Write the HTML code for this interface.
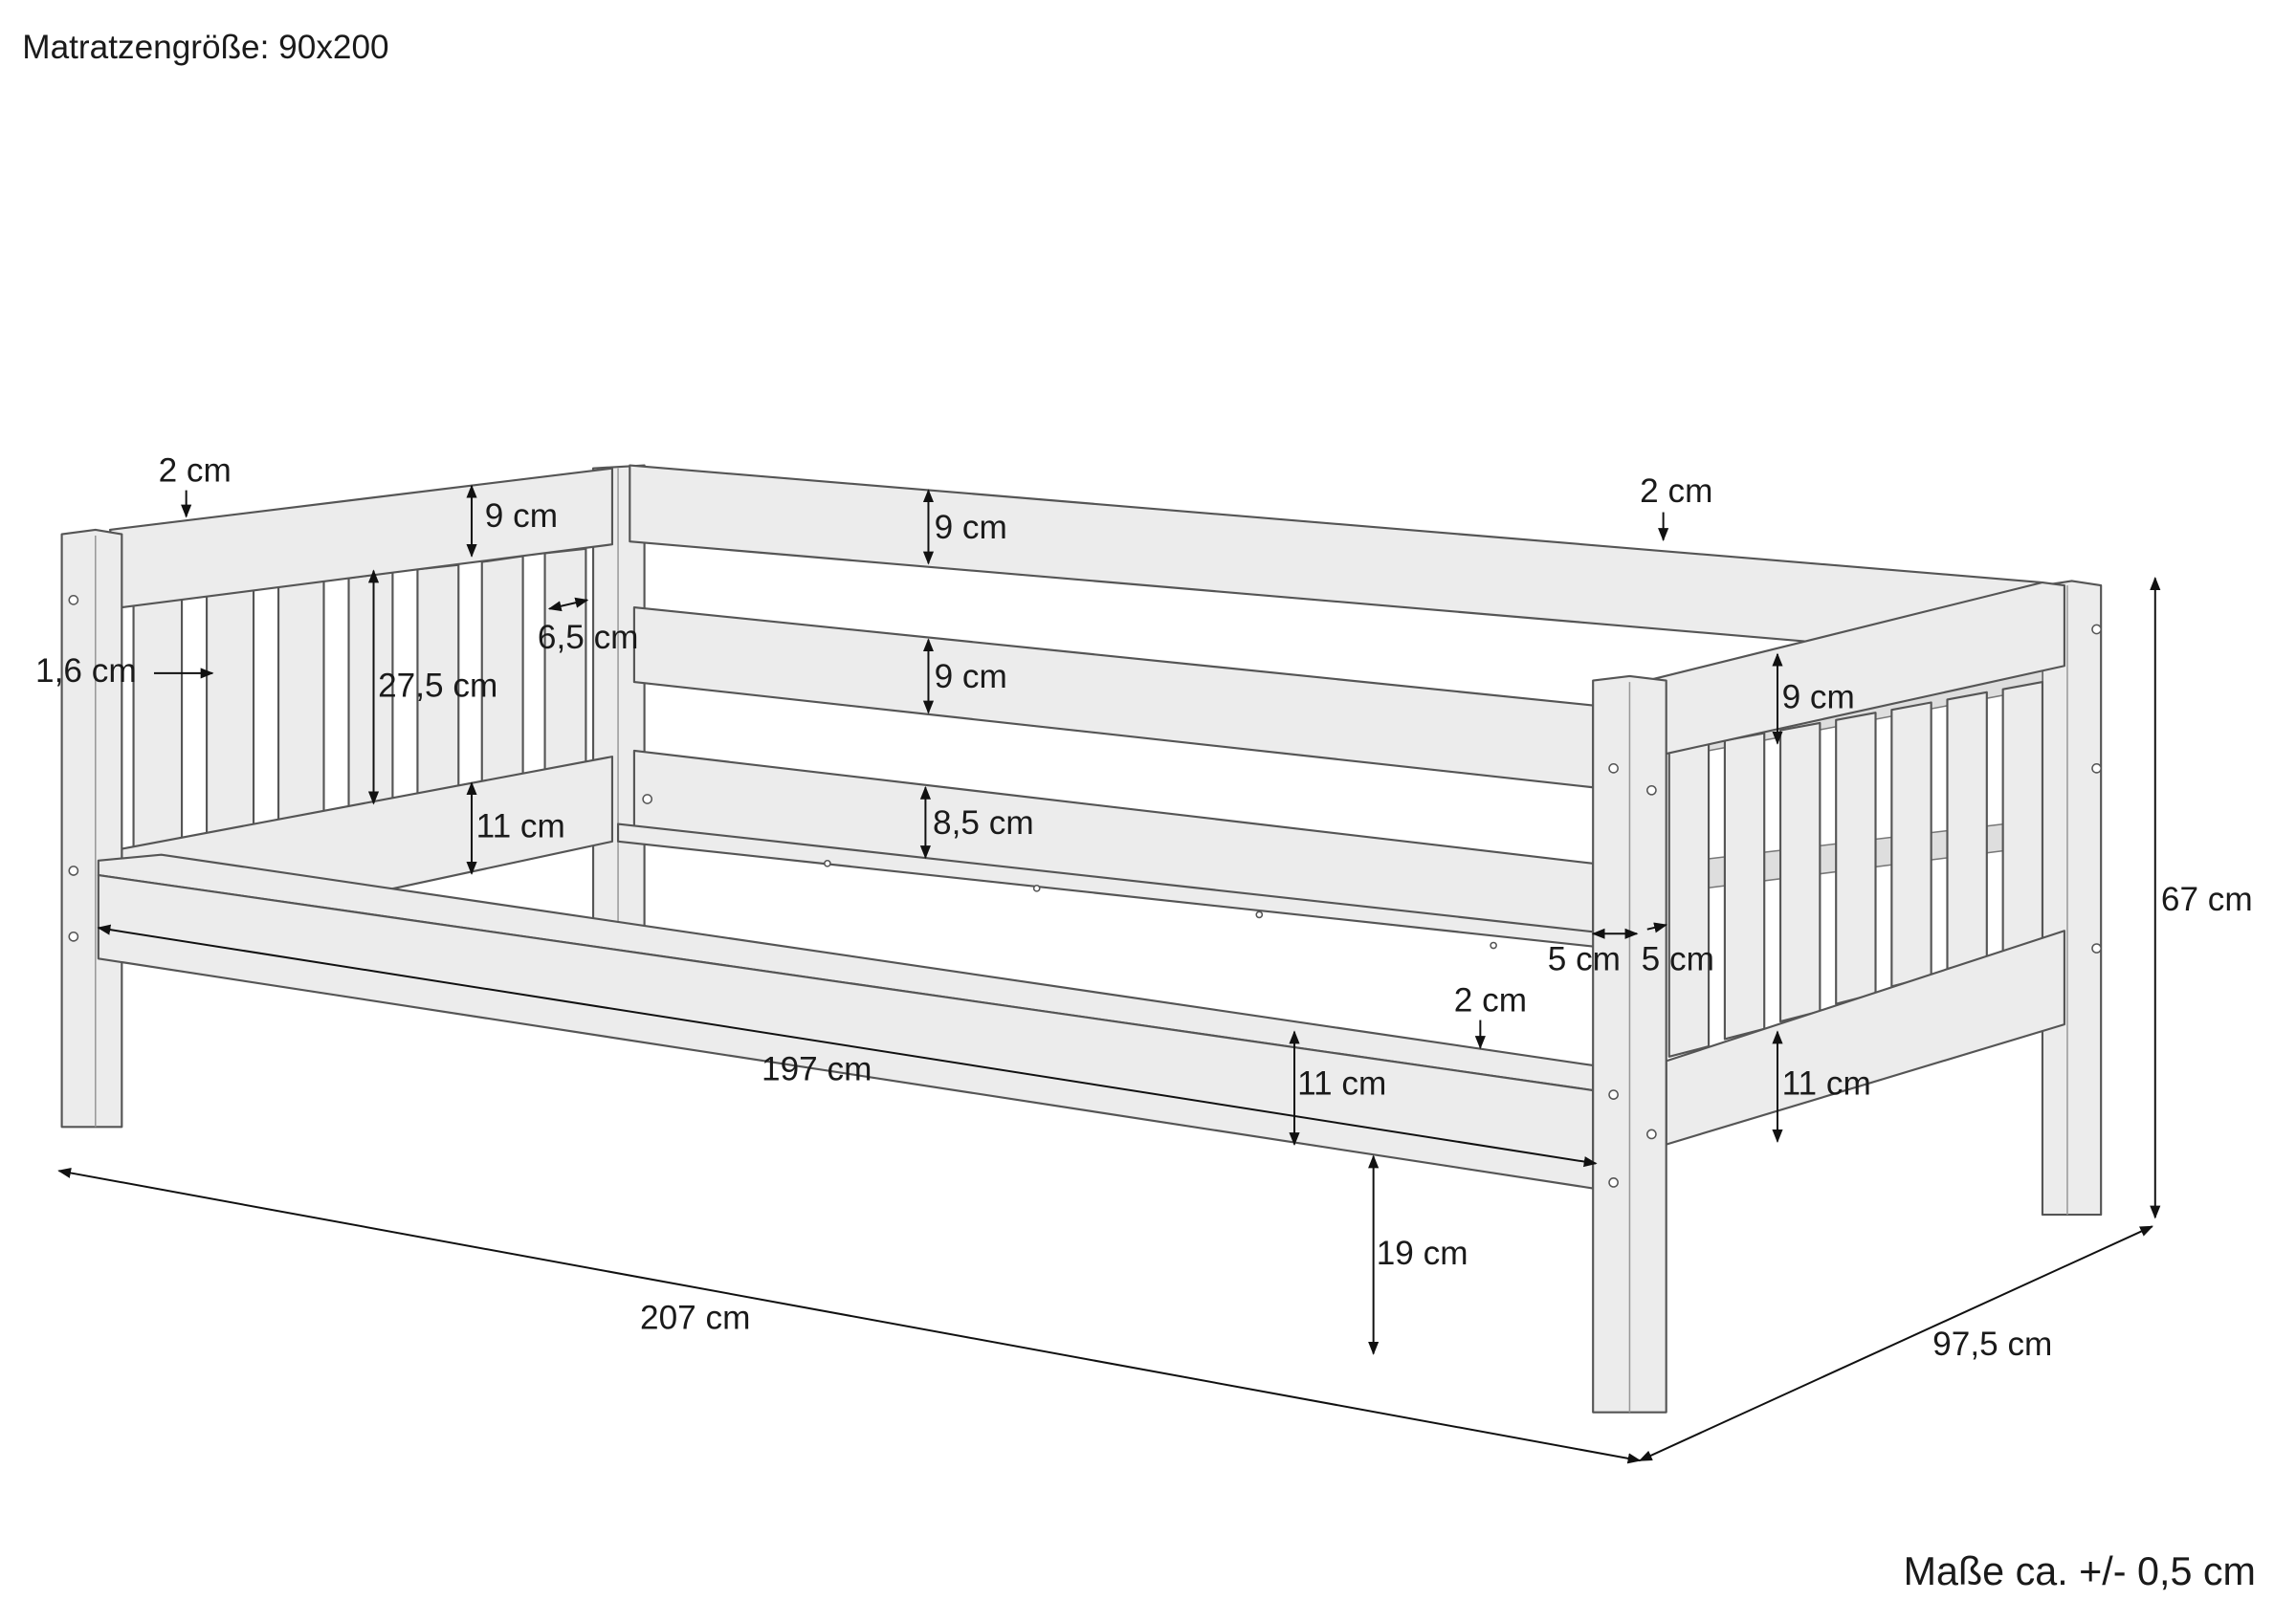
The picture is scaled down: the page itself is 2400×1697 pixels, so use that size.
<!DOCTYPE html>
<html><head><meta charset="utf-8"><style>
html,body{margin:0;padding:0;background:#fff}
svg{display:block}
text{font-family:"Liberation Sans",sans-serif;font-size:23px;fill:#1a1a1a}
.p{fill:#ececec;stroke:#555;stroke-width:1.4;stroke-linejoin:round}
.b{fill:#dedede;stroke:#777;stroke-width:1}
.d{stroke:#111;stroke-width:1.3;fill:none}
</style></head><body>
<svg width="2400" height="1697" viewBox="0 0 1568 1109" xmlns="http://www.w3.org/2000/svg">
<defs><marker id="a" viewBox="0 0 10 10" refX="9" refY="5" markerWidth="7" markerHeight="7" orient="auto-start-reverse"><path d="M0,1 L10,5 L0,9 z" fill="#111"/></marker></defs>
<text x="15" y="40">Matratzengröße: 90x200</text>
<text x="1300" y="1083" style="font-size:27px">Maße ca. +/- 0,5 cm</text>

<!-- back-left post -->
<polygon class="p" points="405,320 440,318 440,636 405,636"/>
<line x1="422" y1="320" x2="422" y2="636" style="stroke:#999;stroke-width:1"/>
<!-- back long rails -->
<polygon class="p" points="430,318 1395,398 1395,452 430,370"/>
<polygon class="p" points="433,415 1088,482 1088,538 433,466"/>
<polygon class="p" points="433,513 1088,590 1088,645 433,566"/>
<polygon class="p" points="422,563 1100,638 1100,648 422,575"/>
<!-- left headboard slats -->
<g class="p">
<polygon points="91,413 124,409 124,575 91,580"/>
<polygon points="141,407 173,403 173,567 141,572"/>
<polygon points="190,401 221,397 221,559 190,564"/>
<polygon points="238,395 268,391 268,551 238,556"/>
<polygon points="285,389 313,386 313,544 285,548"/>
<polygon points="329,384 357,380 357,537 329,541"/>
<polygon points="372,378 400,375 400,530 372,534"/>
</g>
<!-- left top rail -->
<polygon class="p" points="75,362 418,320 418,372 83,415"/>
<!-- left lower rail -->
<polygon class="p" points="83,580 418,517 418,575 255,610 83,600"/>
<!-- front-left post -->
<polygon class="p" points="42,365 65,362 83,365 83,770 42,770"/>
<line x1="65" y1="366" x2="65" y2="770" style="stroke:#999;stroke-width:1"/>
<!-- back-right post -->
<polygon class="p" points="1395,400 1415,397 1435,400 1435,830 1395,830"/>
<line x1="1412" y1="400" x2="1412" y2="830" style="stroke:#999;stroke-width:1"/>
<!-- far rails visible between right slats -->
<polygon class="b" points="1140,500 1395,452 1395,470 1140,518"/>
<polygon class="b" points="1140,590 1395,560 1395,578 1140,610"/>
<!-- right slats -->
<g class="p">
<polygon points="1140,513 1167,508 1167,715 1140,722"/>
<polygon points="1178,506 1205,501 1205,703 1178,710"/>
<polygon points="1216,499 1243,494 1243,691 1216,698"/>
<polygon points="1254,492 1281,487 1281,679 1254,686"/>
<polygon points="1292,485 1319,480 1319,667 1292,674"/>
<polygon points="1330,478 1357,473 1357,655 1330,662"/>
<polygon points="1368,471 1395,466 1395,643 1368,650"/>
</g>
<!-- right top rail -->
<polygon class="p" points="1125,465 1395,398 1410,400 1410,455 1138,515"/>
<!-- right lower rail -->
<polygon class="p" points="1138,725 1410,636 1410,700 1138,782"/>
<!-- front long rail -->
<polygon class="p" points="67,588 110,584 1088,728 1088,745 67,598"/>
<polygon class="p" points="67,598 1088,745 1088,812 67,655"/>
<!-- front-right post -->
<polygon class="p" points="1088,465 1113,462 1138,465 1138,965 1088,965"/>
<line x1="1113" y1="466" x2="1113" y2="965" style="stroke:#999;stroke-width:1"/>
<!-- screws -->
<g fill="#fff" stroke="#555">
<circle cx="50" cy="410" r="3"/><circle cx="50" cy="595" r="3"/><circle cx="50" cy="640" r="3"/>
<circle cx="1102" cy="525" r="3"/><circle cx="1102" cy="748" r="3"/><circle cx="1102" cy="808" r="3"/>
<circle cx="1128" cy="540" r="3"/><circle cx="1128" cy="775" r="3"/>
<circle cx="1432" cy="430" r="3"/><circle cx="1432" cy="525" r="3"/><circle cx="1432" cy="648" r="3"/>
<circle cx="442" cy="546" r="3"/><circle cx="565" cy="590" r="2"/><circle cx="708" cy="607" r="2"/><circle cx="860" cy="625" r="2"/><circle cx="1020" cy="646" r="2"/>
</g>

<!-- dimensions -->
<g class="d">
<line x1="40" y1="800" x2="1120" y2="998" marker-start="url(#a)" marker-end="url(#a)"/>
<line x1="1120" y1="998" x2="1470" y2="838" marker-start="url(#a)" marker-end="url(#a)"/>
<line x1="1472" y1="395" x2="1472" y2="832" marker-start="url(#a)" marker-end="url(#a)"/>
<line x1="938" y1="790" x2="938" y2="925" marker-start="url(#a)" marker-end="url(#a)"/>
<line x1="67" y1="634" x2="1090" y2="795" marker-start="url(#a)" marker-end="url(#a)"/>
<line x1="884" y1="705" x2="884" y2="782" marker-start="url(#a)" marker-end="url(#a)"/>
<line x1="1214" y1="705" x2="1214" y2="780" marker-start="url(#a)" marker-end="url(#a)"/>
<line x1="1214" y1="447" x2="1214" y2="508" marker-start="url(#a)" marker-end="url(#a)"/>
<line x1="322" y1="332" x2="322" y2="380" marker-start="url(#a)" marker-end="url(#a)"/>
<line x1="322" y1="535" x2="322" y2="597" marker-start="url(#a)" marker-end="url(#a)"/>
<line x1="255" y1="390" x2="255" y2="549" marker-start="url(#a)" marker-end="url(#a)"/>
<line x1="634" y1="335" x2="634" y2="385" marker-start="url(#a)" marker-end="url(#a)"/>
<line x1="634" y1="437" x2="634" y2="487" marker-start="url(#a)" marker-end="url(#a)"/>
<line x1="632" y1="538" x2="632" y2="586" marker-start="url(#a)" marker-end="url(#a)"/>
<line x1="375" y1="416" x2="401" y2="410" marker-start="url(#a)" marker-end="url(#a)"/>
<line x1="1088" y1="638" x2="1118" y2="638" marker-start="url(#a)" marker-end="url(#a)"/>
<line x1="1125" y1="635" x2="1138" y2="632" marker-end="url(#a)"/>
<line x1="105" y1="460" x2="145" y2="460" marker-end="url(#a)"/>
<line x1="127" y1="335" x2="127" y2="353" marker-end="url(#a)"/>
<line x1="1136" y1="350" x2="1136" y2="369" marker-end="url(#a)"/>
<line x1="1011" y1="697" x2="1011" y2="716" marker-end="url(#a)"/>
</g>
<text x="437" y="908">207 cm</text>
<text x="1320" y="926">97,5 cm</text>
<text x="1476" y="622">67 cm</text>
<text x="940" y="864">19 cm</text>
<text x="520" y="738">197 cm</text>
<text x="886" y="748">11 cm</text>
<text x="1217" y="748">11 cm</text>
<text x="1217" y="484">9 cm</text>
<text x="331" y="360">9 cm</text>
<text x="325" y="572">11 cm</text>
<text x="258" y="476">27,5 cm</text>
<text x="638" y="368">9 cm</text>
<text x="638" y="470">9 cm</text>
<text x="637" y="570">8,5 cm</text>
<text x="367" y="443">6,5 cm</text>
<text x="1057" y="663">5 cm</text>
<text x="1121" y="663">5 cm</text>
<text x="24" y="466">1,6 cm</text>
<text x="108" y="329">2 cm</text>
<text x="1120" y="343">2 cm</text>
<text x="993" y="691">2 cm</text>
</svg>
</body></html>
